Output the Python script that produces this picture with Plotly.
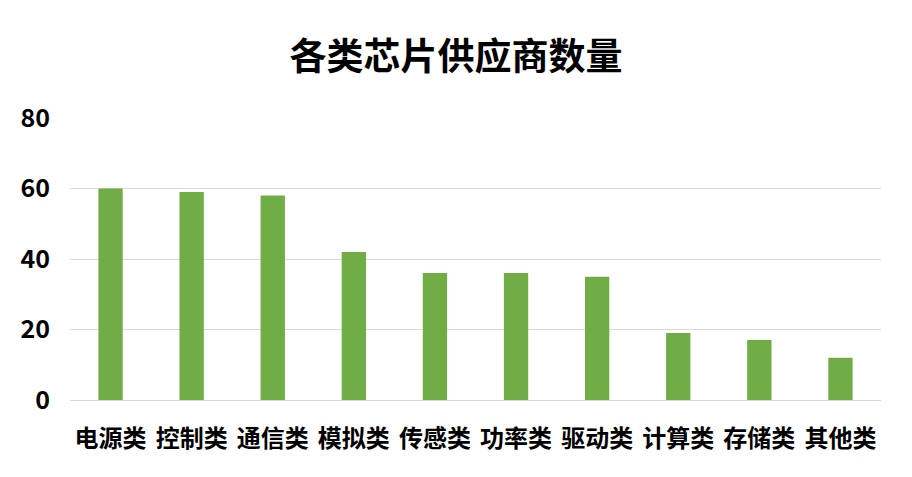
import plotly.graph_objects as go

# 各类芯片供应商数量
categories = ['电源类', '控制类', '通信类', '模拟类', '传感类', '功率类', '驱动类', '计算类', '存储类', '其他类']
supplier_counts = [60, 59, 58, 42, 36, 36, 35, 19, 17, 12]
y_ticks = [0, 20, 40, 60, 80]

font_family = 'Noto Sans CJK SC'

fig = go.Figure()
fig.add_trace(go.Bar(
    x=categories,
    y=supplier_counts,
    marker=dict(color='#70AD47', line=dict(width=0)),
    width=0.3,
))

# page body adds ~8px offset, so margins are shifted a bit
fig.update_layout(
    width=912,
    height=477,
    paper_bgcolor='white',
    plot_bgcolor='white',
    margin=dict(l=62, r=39, t=110, b=85),
    showlegend=False,
    title=dict(
        text='各类芯片供应商数量',
        x=(456 - 8) / 912,
        xanchor='center',
        y=1 - 49 / 477,
        yanchor='middle',
        font=dict(family=font_family, size=37, color='black', weight='bold'),
    ),
)

fig.update_yaxes(
    range=[0, 80],
    tickvals=y_ticks,
    showgrid=True,
    gridcolor='#d9d9d9',
    gridwidth=1,
    zeroline=False,
    showline=False,
    ticks='',
    ticklabelstandoff=19,
    tickfont=dict(family=font_family, size=25, color='black', weight='bold'),
)

fig.update_xaxes(
    showline=True,
    linecolor='#d9d9d9',
    linewidth=1,
    ticks='',
    ticklabelstandoff=17,
    tickfont=dict(family=font_family, size=24, color='black', weight='bold'),
)

fig.write_html("out.html")
